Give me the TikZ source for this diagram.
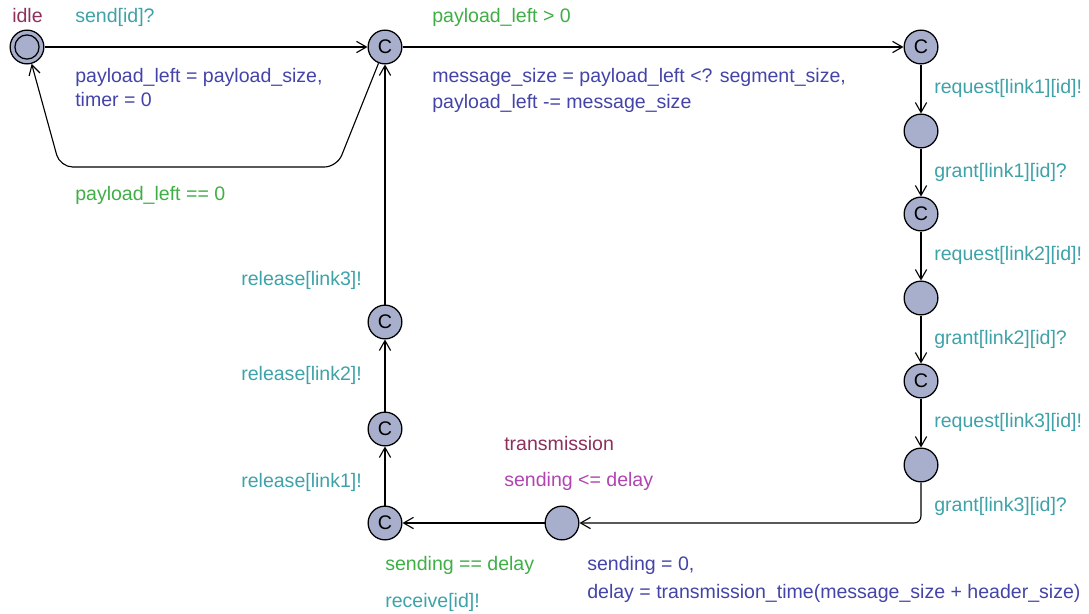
\documentclass[tikz,border=0pt]{standalone}
\usepackage{fontspec}
\setmainfont{Liberation Sans}
\usetikzlibrary{arrows.meta}

\definecolor{locfill}{HTML}{A8AFCD}
\definecolor{namecol}{HTML}{8E2F5C}
\definecolor{synccol}{HTML}{3EA2A8}
\definecolor{assigncol}{HTML}{4444A8}
\definecolor{guardcol}{HTML}{3FAF45}
\definecolor{invcol}{HTML}{B044B0}

\tikzset{
  loc/.style={circle,draw,line width=0.9pt,fill=locfill,minimum size=24pt,inner sep=0pt,
    font=\fontsize{14}{14}\selectfont},
  trans/.style={line width=0.8pt,-{Straight Barb[length=7pt,width=8pt,line width=0.8pt]}},
  lbl/.style={anchor=base west,inner sep=0pt,font=\fontsize{13.9}{16}\selectfont},
  locname/.style={lbl,text=namecol},
  sync/.style={lbl,text=synccol},
  assign/.style={lbl,text=assigncol},
  guard/.style={lbl,text=guardcol},
  inv/.style={lbl,text=invcol}
}

\begin{document}
\begin{tikzpicture}[x=0.025cm,y=-0.025cm]
  \useasboundingbox (0,0) rectangle (1089,613);
  % locations
  \node[loc] (idle) at (27,47) {};
  \draw[line width=0.9pt] (idle.center) circle[radius=8.6pt];
  \node[loc] (c1) at (385,47) {C};
  \node[loc] (c2) at (921,47) {C};
  \node[loc] (n3) at (921,131) {};
  \node[loc] (c4) at (921,214) {C};
  \node[loc] (n5) at (921,298) {};
  \node[loc] (c6) at (921,381) {C};
  \node[loc] (n7) at (921,465) {};
  \node[loc] (n8) at (562,523) {};
  \node[loc] (c9) at (385,523) {C};
  \node[loc] (c10) at (385,429) {C};
  \node[loc] (c11) at (385,322) {C};
  \coordinate (bendA) at (921,523);
  \coordinate (bendB) at (337,167);
  \coordinate (bendC) at (60,167);

  % edges
  \draw[trans] (idle) -- (c1);
  \draw[trans] (c1) -- (c2);
  \draw[trans] (c2) -- (n3);
  \draw[trans] (n3) -- (c4);
  \draw[trans] (c4) -- (n5);
  \draw[trans] (n5) -- (c6);
  \draw[trans] (c6) -- (n7);
  \draw[trans,rounded corners=5pt] (n7) -- (bendA) -- (n8);
  \draw[trans] (n8) -- (c9);
  \draw[trans] (c9) -- (c10);
  \draw[trans] (c10) -- (c11);
  \draw[trans] (c11) -- (c1);
  \draw[trans,rounded corners=9pt] (c1) -- (bendB) -- (bendC) -- (idle);

  % names and invariants
  \node[locname] (idlename) at (12,22) {idle};
  \node[locname] (trname) at (504,450) {transmission};
  \node[inv] (trinv) at (504,486) {sending <= delay};

  % labels
  \node[sync] (s1) at (75,22) {send[id]?};
  \node[assign] (a1) at (75,82) {payload\_left = payload\_size,};
  \node[assign] (a1b) at (75,106) {timer = 0};
  \node[guard] (g2) at (432,22) {payload\_left > 0};
  \node[assign] (a2) at (432,82) {message\_size = payload\_left <? segment\_size,};
  \node[assign] (a2b) at (432,108) {payload\_left -= message\_size};
  \node[guard] (g0) at (75,200) {payload\_left == 0};
  \node[sync] (r1) at (934,93) {request[link1][id]!};
  \node[sync] (q1) at (934,177) {grant[link1][id]?};
  \node[sync] (r2) at (934,260) {request[link2][id]!};
  \node[sync] (q2) at (934,344) {grant[link2][id]?};
  \node[sync] (r3) at (934,427) {request[link3][id]!};
  \node[sync] (q3) at (934,511) {grant[link3][id]?};
  \node[assign] (a7) at (587,570) {sending = 0,};
  \node[assign] (a7b) at (587,598) {delay = transmission\_time(message\_size + header\_size)};
  \node[guard] (g8) at (385,570) {sending == delay};
  \node[sync] (s8) at (385,607) {receive[id]!};
  \node[sync] (l1) at (241,487) {release[link1]!};
  \node[sync] (l2) at (241,380) {release[link2]!};
  \node[sync] (l3) at (241,285) {release[link3]!};
\end{tikzpicture}
\end{document}
